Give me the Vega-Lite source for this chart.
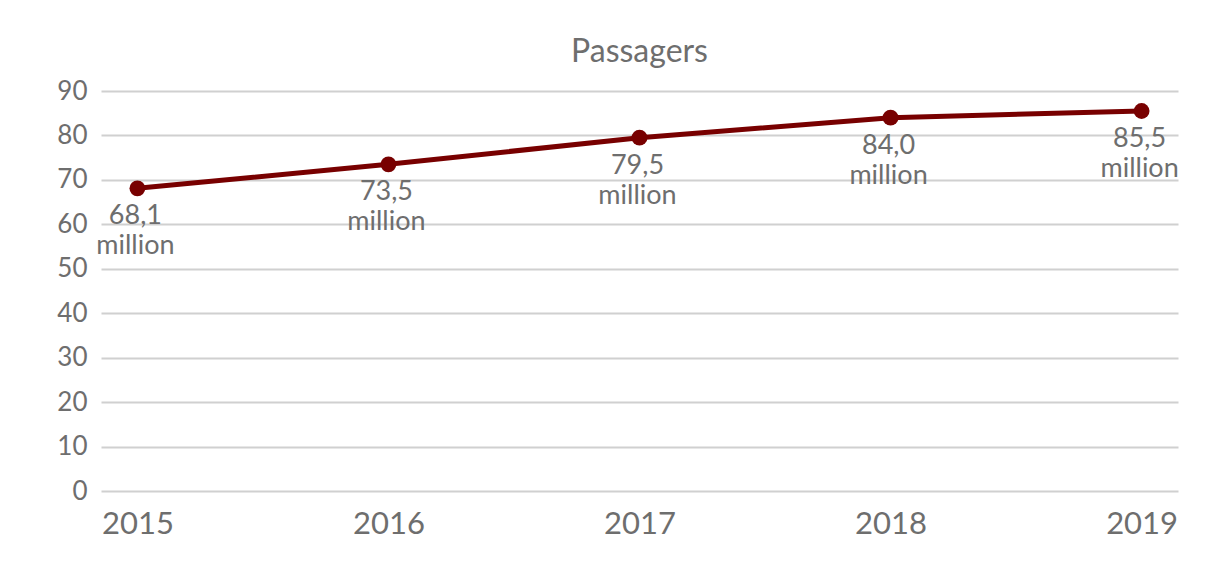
{
  "$schema": "https://vega.github.io/schema/vega-lite/v6.json",
  "width": 1077,
  "height": 400,
  "autosize": "none",
  "padding": {"left": 101, "top": 91, "right": 39, "bottom": 76},
  "background": "white",
  "config": {
    "view": {"stroke": null},
    "font": "Lato",
    "axis": {"labelFont": "Lato", "labelColor": "#6e6e6e", "domain": false, "ticks": false, "gridColor": "#d0d0d0", "gridWidth": 1.8}
  },
  "title": {"text": "Passagers", "fontSize": 32, "font": "Lato", "fontWeight": "normal", "color": "#6e6e6e", "anchor": "middle", "offset": 9},
  "data": {"values": [
    {"year": "2015", "passengers": 68.1, "label": ["68,1", "million"]},
    {"year": "2016", "passengers": 73.5, "label": ["73,5", "million"]},
    {"year": "2017", "passengers": 79.5, "label": ["79,5", "million"]},
    {"year": "2018", "passengers": 84.0, "label": ["84,0", "million"]},
    {"year": "2019", "passengers": 85.5, "label": ["85,5", "million"]}
  ]},
  "encoding": {
    "x": {"field": "year", "type": "ordinal", "scale": {"type": "point", "padding": 0.145}, "axis": {"title": null, "labelAngle": 0, "labelFontSize": 31, "labelPadding": 18, "grid": false}},
    "y": {"field": "passengers", "type": "quantitative", "scale": {"domain": [0, 90]}, "axis": {"title": null, "values": [0,10,20,30,40,50,60,70,80,90], "labelFontSize": 26, "labelPadding": 14}}
  },
  "layer": [
    {"mark": {"type": "line", "color": "#780000", "strokeWidth": 5}},
    {"mark": {"type": "point", "filled": true, "color": "#780000", "opacity": 1, "size": 250}},
    {"mark": {"type": "text", "baseline": "alphabetic", "align": "center", "dy": 36, "dx": -2, "fontSize": 27, "lineHeight": 30, "color": "#6e6e6e", "font": "Lato"}, "encoding": {"text": {"field": "label"}}}
  ]
}
